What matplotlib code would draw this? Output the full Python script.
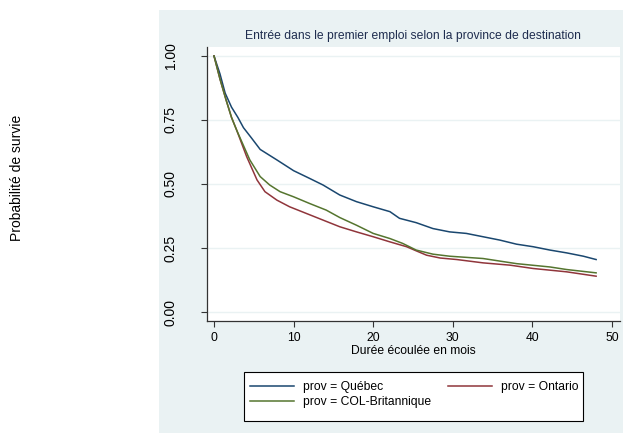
import matplotlib
matplotlib.use("Agg")
import matplotlib.pyplot as plt
from matplotlib import font_manager
from matplotlib.patches import Rectangle

# survival estimates (months, probability)
quebec_t = [0, 0.75, 1.4, 2.2, 3.0, 3.7, 4.7, 5.8, 7.9, 10.0, 12.0, 13.7, 15.8, 17.9,
            20.0, 22.1, 23.3, 25.4, 27.5, 29.6, 31.7, 33.8, 35.9, 38.0, 40.1, 42.2,
            44.3, 46.4, 48.0]
quebec_s = [1.0, 0.93, 0.855, 0.80, 0.76, 0.72, 0.68, 0.635, 0.594, 0.552, 0.522,
            0.496, 0.457, 0.431, 0.411, 0.392, 0.366, 0.349, 0.326, 0.313, 0.307,
            0.294, 0.281, 0.265, 0.255, 0.242, 0.231, 0.218, 0.205]

ontario_t = [0, 0.75, 1.5, 2.2, 2.85, 4.1, 5.4, 6.4, 7.9, 9.5, 11.6, 13.7, 15.8, 17.9,
             20.0, 22.1, 24.2, 25.4, 26.7, 28.4, 30.5, 33.8, 37.2, 40.1, 44.3, 48.0]
ontario_s = [1.0, 0.91, 0.83, 0.76, 0.71, 0.607, 0.516, 0.47, 0.437, 0.411, 0.385,
             0.359, 0.333, 0.313, 0.294, 0.274, 0.255, 0.239, 0.222, 0.211, 0.205,
             0.192, 0.183, 0.170, 0.157, 0.140]

colb_t = [0, 0.75, 1.5, 2.2, 2.85, 4.5, 5.8, 7.0, 8.3, 10.0, 12.0, 14.1, 15.8, 17.9,
          20.0, 22.1, 23.7, 25.4, 27.5, 29.6, 33.8, 38.0, 42.2, 44.3, 48.0]
colb_s = [1.0, 0.91, 0.83, 0.76, 0.71, 0.594, 0.529, 0.496, 0.47, 0.45, 0.424,
          0.398, 0.369, 0.339, 0.307, 0.287, 0.268, 0.242, 0.226, 0.218, 0.209,
          0.189, 0.176, 0.166, 0.153]

x_ticks = [0, 10, 20, 30, 40, 50]
y_ticks = [0.0, 0.25, 0.50, 0.75, 1.0]
y_ticklabels = ["0.00", "0.25", "0.50", "0.75", "1.00"]

NAVY = "#1a476f"
MAROON = "#90353b"
GREEN = "#55752f"
BG = "#eaf2f3"

installed = {f.name for f in font_manager.fontManager.ttflist}
if "Liberation Sans Narrow" in installed:
    narrow = dict(family="Liberation Sans Narrow", size=10)
else:
    narrow = dict(family="Liberation Sans", size=8.7)
regular = dict(family="Liberation Sans", size=10)

W, H = 623, 434
fig = plt.figure(figsize=(W / 100, H / 100), dpi=100)
fig.patch.set_facecolor("white")


def fx(px):
    return px / W


def fy(py):
    return 1 - py / H


# grey graph region
fig.patches.append(Rectangle((fx(159), fy(433)), fx(623) - fx(159), fy(10) - fy(433),
                             transform=fig.transFigure, facecolor=BG, edgecolor="none",
                             zorder=-10))

ax = fig.add_axes([fx(207), fy(321), fx(620) - fx(207), fy(47) - fy(321)])
ax.set_zorder(1)
ax.set_facecolor("white")
ax.plot(quebec_t, quebec_s, color=NAVY, lw=1.1, label="prov = Québec")
ax.plot(ontario_t, ontario_s, color=MAROON, lw=1.1, label="prov = Ontario")
ax.plot(colb_t, colb_s, color=GREEN, lw=1.1, label="prov = COL-Britannique")

ax.set_xlim(-0.88, 51.0)
ax.set_ylim(-0.035, 1.035)
ax.set_xticks(x_ticks)
ax.set_xticklabels([str(t) for t in x_ticks], fontdict=narrow)
ax.set_yticks(y_ticks)
ax.set_yticklabels(y_ticklabels, fontdict=regular, rotation=90, va="center")
ax.tick_params(axis="y", length=4, width=0.8, color="#333333", pad=17)
ax.tick_params(axis="x", length=4, width=0.8, color="#333333", pad=4)
ax.grid(axis="y", color=BG, lw=1.0)
ax.set_axisbelow(True)
for side in ["top", "right"]:
    ax.spines[side].set_visible(False)
for side in ["left", "bottom"]:
    ax.spines[side].set_color("#333333")
    ax.spines[side].set_linewidth(0.9)

fig.text(fx(413), fy(36), "Entrée dans le premier emploi selon la province de destination",
         ha="center", va="center", color="#1f2d4f", **narrow)
fig.text(fx(413), fy(351), "Durée écoulée en mois", ha="center", va="center", **narrow)
fig.text(fx(17), fy(178), "Probabilité de survie", rotation=90, ha="center", va="center",
         **regular)

# legend frame
fig.patches.append(Rectangle((fx(244), fy(421)), fx(583) - fx(244), fy(372) - fy(421),
                             transform=fig.transFigure, facecolor="white",
                             edgecolor="black", lw=0.8, zorder=1))
handles, labels = ax.get_legend_handles_labels()
order = [0, 2, 1]
leg = fig.legend([handles[i] for i in order], [labels[i] for i in order],
                 loc="upper left", bbox_to_anchor=(fx(250), fy(381)), ncol=2,
                 frameon=False, prop=font_manager.FontProperties(**narrow),
                 handlelength=3.6, handletextpad=0.75, columnspacing=1.45,
                 labelspacing=0.25, borderpad=0, borderaxespad=0)
leg.set_zorder(2)

fig.savefig("out.png", dpi=100)
